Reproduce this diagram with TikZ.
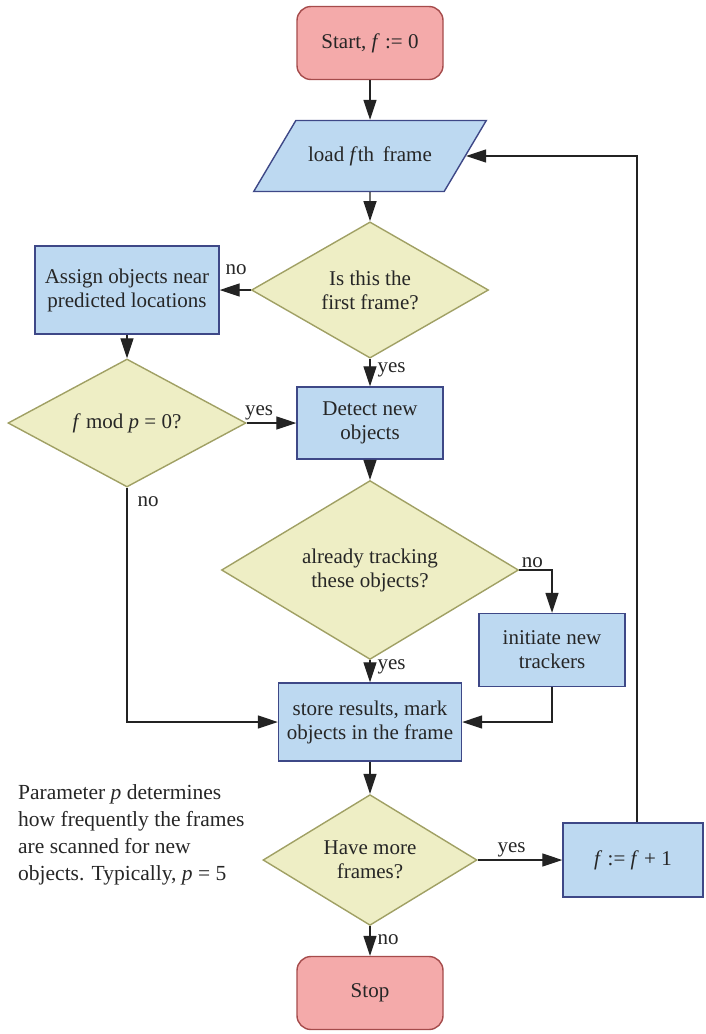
\documentclass[tikz,border=0pt]{standalone}
\usepackage{fontspec}
\setmainfont{Liberation Serif}
\usepackage{tikz}
\usetikzlibrary{shapes.geometric,arrows.meta}
\definecolor{termfill}{RGB}{244,170,170}
\definecolor{termline}{RGB}{165,75,75}
\definecolor{boxfill}{RGB}{189,217,241}
\definecolor{boxline}{RGB}{62,72,135}
\definecolor{askfill}{RGB}{238,238,197}
\definecolor{askline}{RGB}{160,160,100}
\definecolor{wire}{RGB}{35,35,35}

\begin{document}
\begin{tikzpicture}[x=1pt,y=-1pt,
	every node/.style={font=\fontsize{21}{24}\selectfont,text=black!85},
	term/.style={rectangle,rounded corners=14pt,draw=termline,fill=termfill,line width=1.4pt,minimum width=146pt,minimum height=73pt},
	box/.style={rectangle,draw=boxline,fill=boxfill,line width=1.4pt,align=center,minimum width=#1},
	box/.default=146pt,
	ask/.style={diamond,draw=askline,fill=askfill,line width=1.4pt,align=center,inner sep=0pt},
	wireto/.style={draw=wire,line width=1.3pt,->,>={Triangle[length=20pt,width=13pt]}},
	lbl/.style={inner sep=2pt}]
\useasboundingbox (0,0) rectangle (705,1034);
\node [term] (start) at (370,43) {Start, \textit{f} := 0};
\node [trapezium,trapezium stretches=true,trapezium left angle=35,trapezium right angle=145,draw=boxline,fill=boxfill,line width=1.4pt,minimum width=233pt,minimum height=71pt] (load) at (370,156) {load \textit{f}th\, frame};
\node [ask,minimum width=237pt,minimum height=114pt] (first) at (370,290) {Is this the\\first frame?};
\node [box=184pt,minimum height=88pt] (assign) at (127,290) {Assign objects near\\predicted locations};
\node [ask,minimum width=238pt,minimum height=110pt] (modp) at (127,423) {\textit{f} mod \textit{p} = 0?};
\node [box,minimum height=72pt] (detect) at (370,423) {Detect new\\objects};
\node [ask,minimum width=297pt,minimum height=142pt] (tracking) at (370,570) {already tracking\\these objects?};
\node [box,minimum height=73pt] (initiate) at (552,650) {initiate new\\trackers};
\node [box=183pt,minimum height=78pt] (store) at (370,722) {store results, mark\\objects in the frame};
\node [ask,minimum width=214pt,minimum height=116pt] (more) at (370,860) {Have more\\frames?};
\node [box=140pt,minimum height=74pt] (next) at (633,860) {\textit{f} := \textit{f} + 1};
\node [term] (stop) at (370,993) {Stop};
\node [anchor=north west,align=left,inner sep=0pt,font=\fontsize{21.5}{27}\selectfont] (note) at (18,784) {Parameter \textit{p} determines\\how frequently the frames\\are scanned for new\\objects. Typically, \textit{p} = 5};

\path [wireto] (start) -- (load);
\path [wireto] (load) -- (first);
\path [wireto] (first) -- node [lbl,above=13pt,pos=0.47] {no} (assign);
\path [wireto] (first) -- node [lbl,right=5pt,pos=0.4] {yes} (detect);
\path [wireto] (assign) -- (modp);
\path [wireto] (modp) -- node [lbl,above,pos=0.25] {yes} (detect);
\path [wireto] (modp.south) |- node [lbl,right=8pt,pos=0.03] {no} (store.west);
\path [wireto] (detect) -- (tracking);
\path [wireto] (tracking.east) -| node [lbl,above,pos=0.2] {no} (initiate.north);
\path [wireto] (tracking) -- node [lbl,right=5pt,pos=0.3] {yes} (store);
\path [wireto] (initiate.south) |- (store.east);
\path [wireto] (store) -- (more);
\path [wireto] (more) -- node [lbl,above,pos=0.4] {yes} (next);
\path [wireto] (more) -- node [lbl,right=5pt,pos=0.45] {no} (stop);
\path [wireto] ([xshift=4pt]next.north) |- (load.east);
\end{tikzpicture}
\end{document}
